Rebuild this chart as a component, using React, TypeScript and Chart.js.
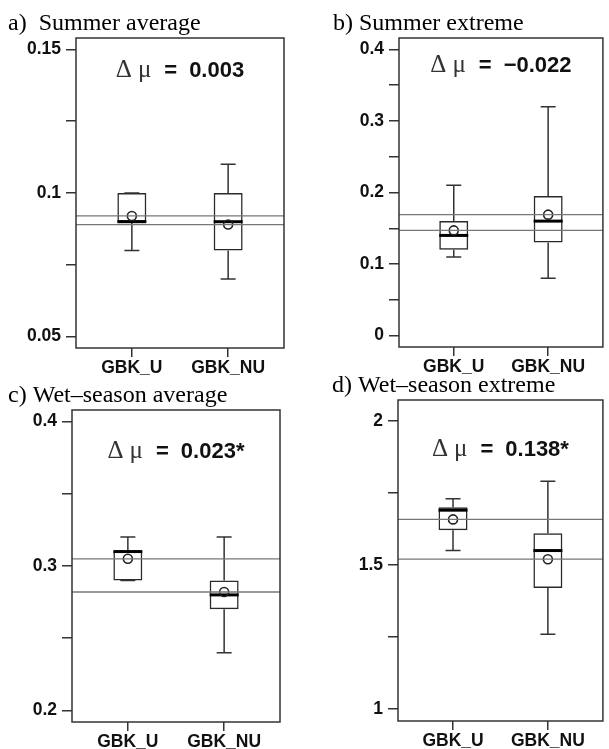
import React, { useEffect, useRef } from 'react';
import { Chart, registerables } from 'chart.js';

Chart.register(...registerables);

// ---------------- data ----------------
const categories = ['GBK_U', 'GBK_NU'];
const categoryPositions = [1, 2];

const panelTitles = [
  'a)  Summer average',
  'b) Summer extreme',
  'c) Wet\u2013season average',
  'd) Wet\u2013season extreme',
];
const deltaTexts = ['0.003', '\u22120.022', '0.023*', '0.138*'];

// five-number summaries: [lower whisker, Q1, median, Q3, upper whisker]
const summerAvgU = [0.08, 0.09, 0.09, 0.1, 0.1];
const summerAvgNU = [0.07, 0.08, 0.09, 0.1, 0.11];
const summerAvgMeans = [0.092, 0.089];

const summerExtU = [0.11, 0.12, 0.14, 0.16, 0.21];
const summerExtNU = [0.08, 0.13, 0.16, 0.195, 0.32];
const summerExtMeans = [0.147, 0.169];

const wetAvgU = [0.29, 0.29, 0.31, 0.31, 0.32];
const wetAvgNU = [0.24, 0.27, 0.28, 0.29, 0.32];
const wetAvgMeans = [0.305, 0.282];

const wetExtU = [1.55, 1.62, 1.69, 1.7, 1.73];
const wetExtNU = [1.26, 1.42, 1.55, 1.61, 1.79];
const wetExtMeans = [1.658, 1.52];

// y axes
const summerAvgRange = [0.046, 0.154];
const summerAvgTicks = [0.05, 0.075, 0.1, 0.125, 0.15];
const summerAvgTickLabels = ['0.05', '', '0.1', '', '0.15'];

const summerExtRange = [-0.016, 0.416];
const summerExtTicks = [0, 0.05, 0.1, 0.15, 0.2, 0.25, 0.3, 0.35, 0.4];
const summerExtTickLabels = ['0', '', '0.1', '', '0.2', '', '0.3', '', '0.4'];

const wetAvgRange = [0.192, 0.408];
const wetAvgTicks = [0.2, 0.25, 0.3, 0.35, 0.4];
const wetAvgTickLabels = ['0.2', '', '0.3', '', '0.4'];

const wetExtRange = [0.959, 2.072];
const wetExtTicks = [1, 1.25, 1.5, 1.75, 2];
const wetExtTickLabels = ['1', '', '1.5', '', '2'];

// value (y) at which each Δμ note is centred
const noteY = [0.1432, 0.38, 0.3805, 1.905];

const xRange = [0.42, 2.58];

type PanelData = {
  title: string;
  delta: string;
  stats: number[][];
  means: number[];
  range: number[];
  ticks: number[];
  tickLabels: string[];
  note: number;
};

const panels: PanelData[] = [
  { title: panelTitles[0], delta: deltaTexts[0], stats: [summerAvgU, summerAvgNU], means: summerAvgMeans, range: summerAvgRange, ticks: summerAvgTicks, tickLabels: summerAvgTickLabels, note: noteY[0] },
  { title: panelTitles[1], delta: deltaTexts[1], stats: [summerExtU, summerExtNU], means: summerExtMeans, range: summerExtRange, ticks: summerExtTicks, tickLabels: summerExtTickLabels, note: noteY[1] },
  { title: panelTitles[2], delta: deltaTexts[2], stats: [wetAvgU, wetAvgNU], means: wetAvgMeans, range: wetAvgRange, ticks: wetAvgTicks, tickLabels: wetAvgTickLabels, note: noteY[2] },
  { title: panelTitles[3], delta: deltaTexts[3], stats: [wetExtU, wetExtNU], means: wetExtMeans, range: wetExtRange, ticks: wetExtTicks, tickLabels: wetExtTickLabels, note: noteY[3] },
];

// ---------------- layout ----------------
type Frame = { left: number; top: number; width: number; height: number; pl: number; pt: number; pr: number; pb: number; titleX: number };
const frames: Frame[] = [
  { left: 0, top: 0, width: 305, height: 375, pl: 76, pt: 38, pr: 284, pb: 348, titleX: 8 },
  { left: 305, top: 0, width: 304, height: 375, pl: 94, pt: 38, pr: 303, pb: 347, titleX: 28 },
  { left: 0, top: 375, width: 305, height: 374, pl: 72, pt: 35, pr: 280, pb: 347, titleX: 8 },
  { left: 305, top: 375, width: 304, height: 374, pl: 93, pt: 25, pr: 303, pb: 346, titleX: 27 },
];

const SANS = '"Liberation Sans", Arial, Helvetica, sans-serif';
const SERIF = '"Liberation Serif", "Times New Roman", serif';
const BOX_W = 29;
const CAP_W = 15;

function makePlugin(p: PanelData, f: Frame) {
  return {
    id: 'boxExtras',
    afterDatasetDraw(chart: any, args: any) {
      if (args.index !== 0) return;
      const ctx = chart.ctx;
      const xs = chart.scales.x;
      const ys = chart.scales.y;
      ctx.save();
      p.stats.forEach((s, i) => {
        const cx = xs.getPixelForValue(categoryPositions[i]);
        const [lo, q1, med, q3, hi] = s.map((v) => ys.getPixelForValue(v));
        ctx.strokeStyle = '#333';
        ctx.lineWidth = 1.5;
        ctx.beginPath();
        ctx.moveTo(cx, q3);
        ctx.lineTo(cx, hi);
        ctx.moveTo(cx - CAP_W / 2, hi);
        ctx.lineTo(cx + CAP_W / 2, hi);
        ctx.moveTo(cx, q1);
        ctx.lineTo(cx, lo);
        ctx.moveTo(cx - CAP_W / 2, lo);
        ctx.lineTo(cx + CAP_W / 2, lo);
        ctx.stroke();
        ctx.strokeStyle = '#000';
        ctx.lineWidth = 3;
        ctx.beginPath();
        ctx.moveTo(cx - BOX_W / 2, med);
        ctx.lineTo(cx + BOX_W / 2, med);
        ctx.stroke();
      });
      ctx.restore();
    },
    afterDatasetsDraw(chart: any) {
      const ctx = chart.ctx;
      const a = chart.chartArea;
      const ys = chart.scales.y;
      ctx.save();
      ctx.strokeStyle = '#777';
      ctx.lineWidth = 1.3;
      p.means.forEach((m) => {
        const y = ys.getPixelForValue(m);
        ctx.beginPath();
        ctx.moveTo(a.left, y);
        ctx.lineTo(a.right, y);
        ctx.stroke();
      });
      ctx.strokeStyle = '#333';
      ctx.lineWidth = 1.5;
      ctx.strokeRect(a.left, a.top, a.right - a.left, a.bottom - a.top);
      ctx.restore();
    },
    afterDraw(chart: any) {
      const ctx = chart.ctx;
      const a = chart.chartArea;
      const ys = chart.scales.y;
      ctx.save();
      // title
      ctx.fillStyle = '#000';
      ctx.font = `24px ${SERIF}`;
      ctx.textBaseline = 'alphabetic';
      ctx.textAlign = 'left';
      ctx.fillText(p.title, f.titleX, a.top - 8);
      // Δμ note
      const size = 22;
      const symFont = `25px ${SERIF}`;
      const boldFont = `bold ${size}px ${SANS}`;
      const parts = [
        { t: '\u0394', font: symFont, gap: 6, color: '#333' },
        { t: '\u03bc', font: symFont, gap: 13, color: '#333' },
        { t: '=', font: boldFont, gap: 12, color: '#111' },
        { t: p.delta, font: boldFont, gap: 0, color: '#111' },
      ];
      let total = 0;
      const widths = parts.map((pt) => {
        ctx.font = pt.font;
        const w = ctx.measureText(pt.t).width;
        total += w + pt.gap;
        return w;
      });
      let x = (a.left + a.right) / 2 - total / 2;
      const base = ys.getPixelForValue(p.note) + 0.36 * size;
      parts.forEach((pt, i) => {
        ctx.font = pt.font;
        ctx.fillStyle = pt.color;
        ctx.fillText(pt.t, x, base);
        x += widths[i] + pt.gap;
      });
      ctx.restore();
    },
  };
}

function Panel({ p, f }: { p: PanelData; f: Frame }) {
  const ref = useRef<HTMLCanvasElement | null>(null);
  useEffect(() => {
    if (!ref.current) return;
    const tickFont = { family: SANS, weight: 'bold' as const, size: 17.5 };
    const chart = new Chart(ref.current, {
      type: 'bar',
      data: {
        datasets: [
          {
            type: 'bar',
            data: categoryPositions.map((x, i) => ({ x, y: [p.stats[i][1], p.stats[i][3]] })) as any,
            backgroundColor: 'rgba(0,0,0,0)',
            borderColor: '#2a2a2a',
            borderWidth: 1.5,
            borderSkipped: false,
            barThickness: BOX_W,
            inflateAmount: 0,
            order: 2,
          } as any,
          {
            type: 'scatter',
            data: categoryPositions.map((x, i) => ({ x, y: p.means[i] })),
            pointRadius: 4.5,
            pointBorderWidth: 1.6,
            pointBorderColor: '#222',
            pointBackgroundColor: 'rgba(0,0,0,0)',
            showLine: false,
            order: 1,
          } as any,
        ],
      },
      options: {
        responsive: false,
        animation: false,
        devicePixelRatio: 1,
        events: [],
        layout: { padding: { top: f.pt, right: f.width - f.pr, left: 0, bottom: 0 } },
        plugins: { legend: { display: false }, tooltip: { enabled: false }, title: { display: false } },
        scales: {
          x: {
            type: 'linear',
            min: xRange[0],
            max: xRange[1],
            offset: false,
            grid: { offset: false, drawOnChartArea: false, drawTicks: true, tickLength: 9, color: '#333', lineWidth: 1.5 },
            border: { display: false },
            afterBuildTicks: (s: any) => {
              s.ticks = categoryPositions.map((v) => ({ value: v }));
            },
            afterFit: (s: any) => {
              s.height = f.height - f.pb;
            },
            ticks: {
              callback: (_v: any, i: number) => categories[i],
              font: tickFont,
              color: '#111',
              padding: 1,
              autoSkip: false,
              maxRotation: 0,
            },
          },
          y: {
            type: 'linear',
            min: p.range[0],
            max: p.range[1],
            grid: { drawOnChartArea: false, drawTicks: true, tickLength: 10, color: '#333', lineWidth: 1.5 },
            border: { display: false },
            afterBuildTicks: (s: any) => {
              s.ticks = p.ticks.map((v) => ({ value: v }));
            },
            afterFit: (s: any) => {
              s.width = f.pl;
            },
            ticks: {
              callback: (_v: any, i: number) => p.tickLabels[i],
              font: tickFont,
              color: '#111',
              padding: 5,
              autoSkip: false,
            },
          },
        },
      } as any,
      plugins: [makePlugin(p, f) as any],
    });
    return () => chart.destroy();
  }, [p, f]);
  return (
    <canvas
      ref={ref}
      width={f.width}
      height={f.height}
      style={{ position: 'absolute', left: f.left, top: f.top, width: f.width, height: f.height }}
    />
  );
}

export default function App() {
  return (
    <div style={{ position: 'absolute', left: 0, top: 0, width: 609, height: 749, background: '#fff', overflow: 'hidden' }}>
      {panels.map((p, i) => (
        <Panel key={i} p={p} f={frames[i]} />
      ))}
    </div>
  );
}
